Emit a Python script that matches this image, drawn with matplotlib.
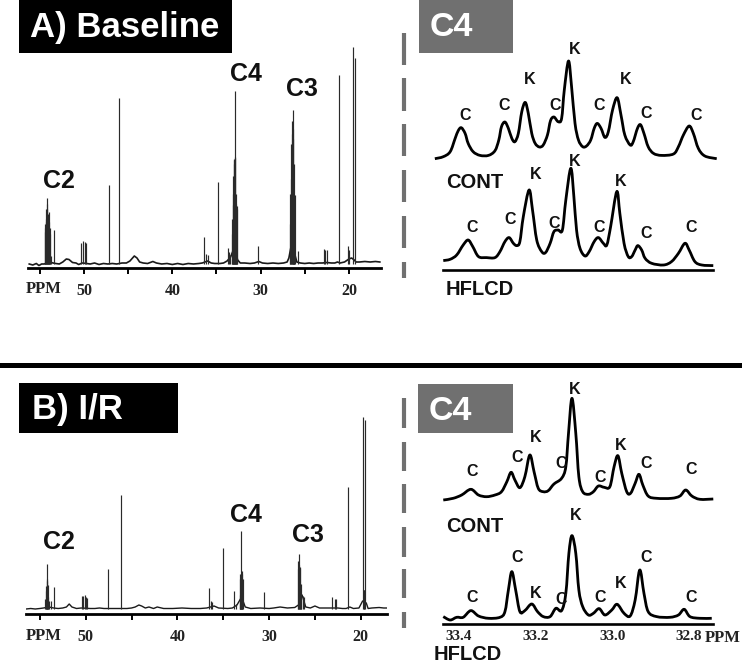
import matplotlib
matplotlib.use("Agg")
import matplotlib.pyplot as plt
from matplotlib.patches import Rectangle, PathPatch
from matplotlib.lines import Line2D
from matplotlib.path import Path

W, H = 742, 661

# full spectra, sticks (ppm, height above baseline)
a_ppm = [54.45, 54.41, 54.38, 54.34, 54.30, 54.26, 54.22, 54.19, 54.15, 54.11, 54.07, 54.03, 54.0, 53.96, 53.92, 53.88, 53.85, 53.74, 53.36,
         50.30, 50.08, 49.92, 49.74, 47.17, 46.0, 36.38, 36.19, 36.0, 34.83, 33.7, 33.55, 33.45,
         33.25, 33.21, 33.17, 33.13, 33.09, 33.06, 33.02, 32.98, 32.94, 32.90, 32.87, 32.83, 32.79, 32.75, 32.71, 32.64,
         30.34, 26.7, 26.65, 26.6, 26.55, 26.49, 26.44, 26.38, 26.34, 26.3, 26.26, 26.23, 26.17, 26.11, 25.74,
         22.87, 22.68, 22.49, 21.13, 20.11, 19.96, 19.55, 19.32]
a_int = [32, 36, 40, 42, 45, 55, 60, 66, 55, 50, 46, 48, 52, 42, 35, 30, 36, 8, 34,
         21, 23, 22, 21, 79, 166, 27, 10, 9, 82, 16, 12, 9,
         30, 45, 59, 70, 88, 104, 100, 105, 173, 106, 107, 70, 60, 58, 55, 58,
         18, 40, 70, 85, 120, 143, 130, 154, 135, 125, 100, 69, 66, 69, 13,
         15, 14, 14, 189, 18, 14, 217, 206]
b_ppm = [54.44, 54.38, 54.33, 54.27, 54.22, 54.18, 54.15, 54.08, 54.0, 53.82, 53.42,
         50.44, 50.25, 50.11, 50.0, 49.82, 47.56, 46.11, 36.51, 36.36, 36.2, 35.02, 33.78, 33.64,
         33.2, 33.16, 33.12, 33.09, 33.05, 33.02, 32.98, 32.95, 32.91, 32.87, 30.51,
         26.87, 26.8, 26.74, 26.69, 26.63, 26.58, 26.52, 26.47, 26.33, 26.15,
         23.09, 22.8, 22.69, 21.35, 19.78, 19.7, 19.62, 19.53]
b_int = [10, 18, 23, 30, 45, 28, 24, 12, 8, 8, 22,
         13, 13, 14, 12, 11, 40, 114, 21, 8, 7, 61, 18, 5,
         14, 35, 30, 35, 33, 78, 38, 35, 30, 30, 17,
         48, 40, 44, 55, 42, 41, 25, 13, 13, 12,
         12, 10, 10, 122, 192, 19, 19, 189]

# baselines of the full spectra
a_base_ppm = [56.2, 55.8, 55.4, 55.1, 54.8, 54.5, 53.9, 53.5, 53.2, 52.8, 52.4, 52.0, 51.7, 51.3, 50.9, 50.6, 50.2, 49.7, 49.3, 48.8,
              48.3, 47.8, 47.3, 46.8, 46.3, 45.7, 45.2, 44.8, 44.5, 44.3, 44.0, 43.7, 43.3, 42.8, 42.2, 41.8, 41.2, 40.6, 40.0, 39.4,
              38.8, 38.2, 37.6, 37.0, 36.6, 36.0, 35.6, 35.2, 34.6, 34.2, 33.8, 33.4, 33.0, 32.6, 32.3, 31.8, 31.2, 30.7, 30.2, 29.8,
              29.2, 28.6, 28.0, 27.4, 27.0, 26.8, 26.5, 26.2, 25.9, 25.5, 25.0, 24.5, 24.0, 23.5, 23.0, 22.5, 22.0, 21.6, 21.3, 21.0,
              20.5, 20.0, 19.7, 19.4, 19.2, 18.8, 18.2, 17.6, 17.0, 16.5]
a_base_int = [0, -1, 0.5, -1.5, 0, 0, 2, 1, 0.5, 0, 2, 5, 4.5, 1.5, 1, -0.5, 1, 0.5, 0, 1,
              -0.5, 0.5, 0, 0.5, 0, 1, 1, 3, 6, 8, 6, 2, 1, 0.5, 2.5, 1, 0, 0.5, -0.5, 0.5,
              -0.5, 0.5, 0, 0.5, 1, 3, 1, 0.5, 0.5, 1, 3, 7, 16, 4, 1, 1, 0.5, 1, 2.5, 1,
              0.5, 1, 0.5, 1, 2, 6, 20, 12, 2, 1, 0.5, 1, 0.5, 1, 1, 1.5, 1, 1, 2, 1,
              2, 5, 6, 4, 2, 2, 2.5, 2, 2.5, 2]
b_base_ppm = [56.5, 56.0, 55.5, 55.0, 54.6, 54.0, 53.5, 53.0, 52.5, 52.1, 51.8, 51.5, 51.0, 50.5, 49.5, 49.0, 48.5, 48.0, 47.0, 46.5,
              45.5, 45.0, 44.6, 44.2, 43.9, 43.5, 43.1, 42.6, 42.2, 41.5, 40.5, 39.5, 38.5, 37.5, 36.8, 36.0, 35.5, 34.5, 34.0, 33.5,
              33.0, 32.6, 32.0, 31.0, 30.0, 29.5, 28.8, 28.0, 27.2, 26.8, 26.4, 26.0, 25.5, 25.0, 24.5, 23.5, 22.5, 22.0, 21.6, 21.2,
              20.8, 20.2, 19.8, 19.4, 19.2, 18.8, 18.0, 17.5, 17.05]
b_base_int = [0, 0.5, 0, 0.5, 1, 2, 1, 0.5, 1, 2, 5, 2, 0.5, 1, 0.5, 0.5, 1, 0.5, 0.5, 0.5,
              0.5, 1, 2, 4, 3, 1, 2, 0.5, 2, 0.5, 0.5, 1, 0.5, 0.5, 1, 3, 1, 0.5, 1, 4,
              12, 2, 0.5, 1, 0.5, 1, 2, 1, 1.5, 4, 14, 2, 1, 3, 1, 1, 1, 0.5, 0.5, 2,
              0.5, 1, 8, 6, 0.5, 1, 1.5, 1, 1]
tick_ppm = [55, 50, 45, 40, 35, 30, 25, 20]
tick_labels = ["", "50", "", "40", "", "30", "", "20"]

# C4 expansions
a_cont_ppm = [33.463, 33.441, 33.423, 33.410, 33.402, 33.394, 33.384, 33.376, 33.363, 33.345, 33.323, 33.306, 33.296, 33.289, 33.280, 33.271,
              33.262, 33.254, 33.245, 33.236, 33.227, 33.219, 33.210, 33.201, 33.190, 33.180, 33.169, 33.161, 33.152, 33.141, 33.132, 33.125,
              33.114, 33.106, 33.097, 33.088, 33.077, 33.067, 33.056, 33.047, 33.039, 33.029, 33.019, 33.010, 32.999, 32.987, 32.977, 32.967,
              32.953, 32.945, 32.934, 32.926, 32.917, 32.906, 32.892, 32.871, 32.840, 32.827, 32.814, 32.799, 32.788, 32.775, 32.758, 32.727]
a_cont_int = [0, 2, 7, 20.3, 28, 31, 25.3, 15.3, 7, 3.3, 3.3, 8, 18.7, 32, 36.7, 30.3,
              20.3, 17, 25.3, 47, 56.3, 45.3, 25.3, 15.3, 11.7, 13.7, 23.7, 38, 41.7, 37, 40.3, 68.7,
              97.7, 72, 35.3, 18.7, 12, 12.7, 18.7, 30.3, 35.3, 30.3, 21.3, 27, 48.7, 61, 43.7, 23.7,
              13.7, 17, 30.3, 34, 25.3, 12, 5.3, 3.3, 4.7, 12, 23.7, 32.7, 25.3, 10.3, 2.7, 0]
a_hf_ppm = [33.441, 33.423, 33.406, 33.389, 33.376, 33.364, 33.349, 33.328, 33.306, 33.293, 33.280, 33.269, 33.258, 33.249, 33.241, 33.232,
            33.217, 33.208, 33.197, 33.184, 33.174, 33.162, 33.152, 33.141, 33.130, 33.121, 33.108, 33.100, 33.093, 33.084, 33.071, 33.060,
            33.047, 33.036, 33.023, 33.014, 33.004, 32.988, 32.980, 32.969, 32.958, 32.949, 32.940, 32.933, 32.923, 32.914, 32.897, 32.866,
            32.845, 32.827, 32.810, 32.799, 32.784, 32.766, 32.736]
a_hf_int = [2.7, 4, 8.3, 18.3, 23.3, 16.7, 6.7, 5.7, 5.7, 11.7, 21.7, 25.7, 20, 17.7, 21.7, 46.7,
            73.3, 53.3, 23.3, 11.7, 10.7, 20, 31.7, 33.3, 33.3, 63.3, 95, 66.7, 33.3, 15, 7.3, 11.7,
            21.7, 25.7, 20, 18.3, 36.7, 71.7, 50, 20, 6.7, 6.7, 13.3, 17.7, 13.3, 5, 0, -1.7,
            1.7, 10, 20, 13.3, 1.7, -1.7, -2.3]
b_cont_ppm = [33.441, 33.415, 33.393, 33.369, 33.349, 33.328, 33.306, 33.289, 33.275, 33.264, 33.254, 33.241, 33.228, 33.215, 33.204, 33.193,
              33.180, 33.167, 33.152, 33.132, 33.121, 33.114, 33.105, 33.095, 33.087, 33.077, 33.062, 33.049, 33.036, 33.021, 33.006, 32.995,
              32.985, 32.975, 32.962, 32.952, 32.940, 32.930, 32.920, 32.906, 32.884, 32.845, 32.823, 32.808, 32.792, 32.771, 32.736]
b_cont_int = [0, 1.7, 5, 10.7, 5, 3.3, 5, 8.3, 18.3, 27.7, 20, 12.3, 23.3, 45, 28.3, 11.7,
              8.3, 9.3, 16, 21.7, 33.3, 66.7, 101.7, 66.7, 23.3, 8.3, 5.7, 8.3, 14, 12.7, 13.3, 33.3,
              44.3, 26.7, 8.3, 6.7, 16.7, 25.7, 15, 4, 1.7, 1.7, 4, 10, 4, 0.7, 1]
b_hf_ppm = [33.441, 33.423, 33.406, 33.389, 33.369, 33.349, 33.323, 33.293, 33.280, 33.271, 33.262, 33.252, 33.241, 33.228, 33.210, 33.195,
            33.180, 33.162, 33.147, 33.132, 33.121, 33.113, 33.105, 33.095, 33.087, 33.077, 33.062, 33.049, 33.034, 33.019, 33.001, 32.987,
            32.969, 32.953, 32.940, 32.928, 32.917, 32.906, 32.884, 32.849, 32.827, 32.812, 32.797, 32.771, 32.740]
b_hf_int = [1.7, -1.7, 1, 1, 7.7, 2.3, 0, 1, 6.7, 28.3, 46.7, 28.3, 6.7, 7.7, 14.3, 6.7,
            1.7, 1.7, 10, 7.7, 25, 65, 82.7, 65, 28.3, 11.7, 3.3, 5, 9.7, 3.3, 8.3, 14,
            5, 2.3, 18.3, 48.3, 25, 6.7, 1.7, 1, 3.3, 9, 1.7, 0, 0]
c4_ticks = [33.4, 33.2, 33.0, 32.8]
c4_tick_labels = ["33.4", "33.2", "33.0", "32.8"]

# peak letters, text plus pixel place
peak_marks = [("C", 465, 115), ("C", 504, 105), ("K", 530, 80), ("C", 555, 105), ("K", 575, 49),
              ("C", 599, 105), ("K", 626, 80), ("C", 646, 113), ("C", 696, 115),
              ("C", 472, 227), ("C", 510, 220), ("K", 536, 175), ("C", 554, 223), ("K", 575, 162),
              ("C", 599, 227), ("K", 621, 182), ("C", 646, 233), ("C", 691, 227),
              ("C", 472, 471), ("C", 517, 457), ("K", 536, 438), ("C", 561, 463), ("K", 575, 389),
              ("C", 600, 477), ("K", 621, 445), ("C", 646, 464), ("C", 691, 470),
              ("K", 576, 515), ("C", 517, 557), ("K", 536, 593), ("C", 561, 599),
              ("C", 472, 597), ("C", 600, 597), ("K", 621, 584), ("C", 646, 557), ("C", 691, 597)]
group_marks = [("C2", 59, 181), ("C4", 246, 74), ("C3", 302, 89),
               ("C2", 59, 542), ("C4", 246, 515), ("C3", 308, 535)]
side_marks = [("CONT", 475, 183), ("HFLCD", 480, 289), ("CONT", 475, 526), ("HFLCD", 468, 654)]
dash_a = [(33, 65), (78, 111), (124, 156), (170, 202), (216, 248), (262, 278)]
dash_b = [(398, 428), (442, 471), (484, 513), (527, 557), (569, 598), (612, 628)]


def pxAxes(fig, x0, x1, y0, y1):
    ax = fig.add_axes([x0 / W, 1 - y1 / H, (x1 - x0) / W, (y1 - y0) / H])
    ax.patch.set_visible(False)
    for s in ["top", "left", "right"]:
        ax.spines[s].set_visible(False)
    ax.set_yticks([])
    return ax


def pxText(fig, x, y, s, **kw):
    fig.text(x / W, 1 - y / H, s, ha=kw.pop("ha", "center"), va="center", **kw)


def box(fig, x0, x1, y0, y1, color):
    fig.add_artist(Rectangle((x0 / W, 1 - y1 / H), (x1 - x0) / W, (y1 - y0) / H,
                             transform=fig.transFigure, color=color, lw=0))


def smoothTrace(ax, xs, ys):
    # curve through the read points, bezier handles from the neighbours
    verts = [(xs[0], ys[0])]
    codes = [Path.MOVETO]
    n = len(xs)
    for i in range(n - 1):
        p0 = (xs[max(i - 1, 0)], ys[max(i - 1, 0)])
        p1 = (xs[i], ys[i])
        p2 = (xs[i + 1], ys[i + 1])
        p3 = (xs[min(i + 2, n - 1)], ys[min(i + 2, n - 1)])
        verts.append((p1[0] + (p2[0] - p0[0]) / 6, p1[1] + (p2[1] - p0[1]) / 6))
        verts.append((p2[0] - (p3[0] - p1[0]) / 6, p2[1] - (p3[1] - p1[1]) / 6))
        verts.append(p2)
        codes += [Path.CURVE4, Path.CURVE4, Path.CURVE4]
    ax.add_patch(PathPatch(Path(verts, codes), fill=False, edgecolor="black", lw=2.0, joinstyle="round"))


def fullSpectrum(ax, ppm, vals, base_ppm, base_vals, limits, lift, top, base_lw):
    ax.plot(base_ppm, base_vals, color="#1a1a1a", lw=base_lw)
    ax.vlines(ppm, 0, vals, color="#2a2a2a", lw=0.85)
    ax.set_xlim(limits)
    ax.set_ylim(-lift, top)
    ax.spines["bottom"].set_linewidth(2.0)
    ax.set_xticks(tick_ppm, tick_labels, family="Liberation Serif", fontweight="bold", fontsize=11.5, color="#222222")
    ax.tick_params(axis="x", length=4, width=1.4, pad=7)


def c4Panel(ax, cont_x, cont_y, cont_off, hf_x, hf_y, hf_off, top):
    smoothTrace(ax, cont_x, [v + cont_off for v in cont_y])
    smoothTrace(ax, hf_x, [v + hf_off for v in hf_y])
    ax.set_xlim(33.554, 32.661)
    ax.set_ylim(0, top)
    ax.spines["bottom"].set_bounds(33.442, 32.737)
    ax.spines["bottom"].set_linewidth(1.9)


fig = plt.figure(figsize=(W / 100, H / 100), dpi=100)
plt.rcParams["font.family"] = ["Liberation Sans", "DejaVu Sans"]

box(fig, 19, 232, 0, 53, "black")
box(fig, 419, 513, 0, 53, "#707070")
box(fig, 19, 178, 383, 433, "black")
box(fig, 418, 513, 384, 433, "#707070")
box(fig, 0, W, 363, 368, "black")
for y0, y1 in dash_a:
    fig.add_artist(Line2D([404 / W, 404 / W], [1 - y0 / H, 1 - y1 / H], color="#707070", lw=3, solid_capstyle="butt"))
for y0, y1 in dash_b:
    fig.add_artist(Line2D([404 / W, 404 / W], [1 - y0 / H, 1 - y1 / H], color="#707070", lw=3, solid_capstyle="butt"))

ax_a = pxAxes(fig, 28, 381, 0, 268)
fullSpectrum(ax_a, a_ppm, a_int, a_base_ppm, a_base_int, (56.34, 16.37), 4, 264, 1.2)
ax_b = pxAxes(fig, 26, 387, 370, 614)
fullSpectrum(ax_b, b_ppm, b_int, b_base_ppm, b_base_int, (56.51, 17.14), 5, 239, 1.0)

ax_c = pxAxes(fig, 400, 742, 0, 269.5)
c4Panel(ax_c, a_cont_ppm, a_cont_int, 110.8, a_hf_ppm, a_hf_int, 6.2, 269.5)
ax_c.set_xticks([])
ax_d = pxAxes(fig, 400, 742, 370, 624)
c4Panel(ax_d, b_cont_ppm, b_cont_int, 124, b_hf_ppm, b_hf_int, 5.7, 254)
ax_d.set_xticks(c4_ticks, c4_tick_labels, family="Liberation Serif", fontweight="bold", fontsize=11, color="#222222")
ax_d.tick_params(axis="x", length=0, pad=4)

pxText(fig, 30, 28, "A) Baseline", ha="left", color="white", fontsize=25, fontweight="bold")
pxText(fig, 430, 28, "C4", ha="left", color="white", fontsize=24.5, fontweight="bold")
pxText(fig, 32, 410, "B) I/R", ha="left", color="white", fontsize=25, fontweight="bold")
pxText(fig, 429, 412, "C4", ha="left", color="white", fontsize=24.5, fontweight="bold")
pxText(fig, 44, 289, "PPM", family="Liberation Serif", fontweight="bold", fontsize=12, color="#222222")
pxText(fig, 44, 636, "PPM", family="Liberation Serif", fontweight="bold", fontsize=12, color="#222222")
pxText(fig, 723, 638, "PPM", family="Liberation Serif", fontweight="bold", fontsize=12, color="#222222")

for s, x, y in peak_marks:
    pxText(fig, x, y, s, fontsize=11.5, fontweight="bold", color="#111111")
for s, x, y in group_marks:
    pxText(fig, x, y, s, fontsize=18, fontweight="bold", color="#111111")
for s, x, y in side_marks:
    pxText(fig, x, y, s, fontsize=14.5, fontweight="bold", color="#111111")

fig.savefig("out.png", dpi=100)
print("Done...!")
